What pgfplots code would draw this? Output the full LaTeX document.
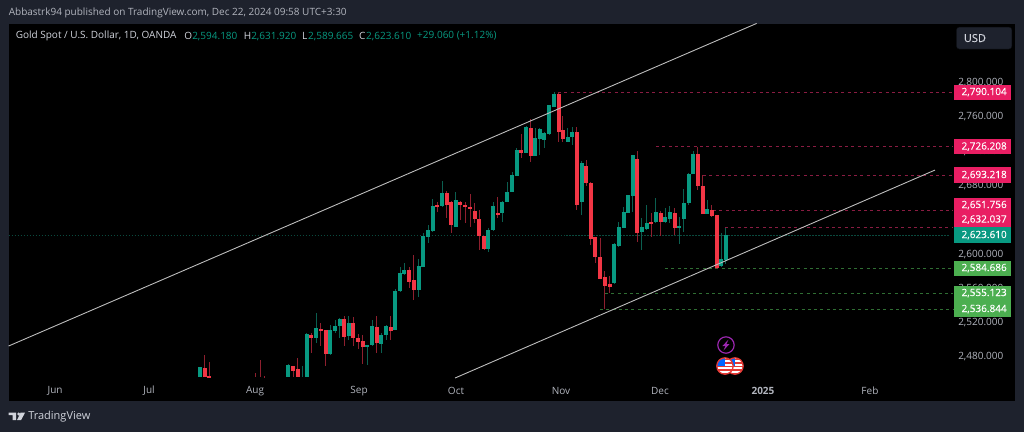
\documentclass[border=0pt]{standalone}
\usepackage{fontspec}
\setmainfont{Open Sans}
\usepackage{pgfplots}
\usepackage{pgfplotstable}
\pgfplotsset{compat=1.18}
\definecolor{bgp}{HTML}{1E222D}
\definecolor{upc}{HTML}{089981}
\definecolor{dnc}{HTML}{F23645}
\definecolor{upw}{HTML}{0B5F50}
\definecolor{dnw}{HTML}{8E1F2E}
\definecolor{txt}{HTML}{B2B5BE}
\definecolor{lab}{HTML}{D1D4DC}
\definecolor{pinkb}{HTML}{E91E63}
\definecolor{greenb}{HTML}{4CAF50}
\definecolor{tealb}{HTML}{089981}
\definecolor{lvlr}{HTML}{8A1C42}
\definecolor{lvlg}{HTML}{2F6E33}
\definecolor{lvlt}{HTML}{0A4A3E}
\definecolor{trend}{HTML}{BDBDBD}
\definecolor{purp}{HTML}{9C27B0}
\definecolor{ringr}{HTML}{E53935}
% x is the horizontal position of the candle on the chart
\pgfplotstableread{
x top bot high low
200.0 2469.3 2457.7 2470.1 2457.7
288.3 2472.4 2457.7 2473.2 2457.7
302.3 2457.7 2457.7 2470.9 2457.7
306.7 2508.6 2457.7 2509.3 2457.7
316.0 2515.2 2503.1 2532.3 2497.3
330.3 2512.8 2484.9 2518.6 2483.7
335.0 2517.9 2512.1 2524.5 2508.9
339.7 2525.6 2517.5 2526.4 2503.1
348.7 2521.4 2505.9 2529.1 2501.2
367.3 2495.7 2492.6 2495.7 2472.4
372.0 2517.5 2495.4 2524.5 2494.2
381.3 2506.6 2496.9 2508.9 2485.7
386.0 2517.5 2506.6 2518.6 2501.2
395.0 2558.7 2512.8 2560.2 2512.4
400.0 2578.9 2558.3 2585.9 2557.5
404.3 2582.7 2578.1 2590.5 2576.9
418.7 2587.0 2559.4 2595.2 2551.7
423.3 2622.7 2586.2 2625.5 2585.8
428.0 2629.3 2621.6 2635.2 2614.6
432.7 2657.3 2627.8 2665.1 2627.0
442.0 2672.8 2657.7 2686.4 2656.5
455.7 2664.3 2633.2 2673.6 2633.2
488.3 2629.7 2607.2 2631.3 2604.1
493.0 2657.3 2629.3 2661.6 2628.6
502.3 2662.3 2648.8 2663.1 2639.0
507.3 2674.0 2662.3 2685.6 2661.6
512.0 2693.4 2674.0 2696.5 2673.2
516.7 2722.5 2692.6 2724.5 2692.6
526.0 2749.3 2719.0 2750.9 2718.6
535.0 2736.2 2715.9 2747.8 2715.5
539.7 2747.0 2735.3 2747.8 2716.7
544.3 2742.3 2734.2 2743.9 2725.3
549.0 2774.6 2740.8 2775.0 2740.0
554.0 2787.8 2772.6 2790.5 2772.6
567.7 2737.3 2731.9 2748.5 2731.9
572.3 2743.5 2737.3 2749.7 2728.4
581.7 2707.0 2662.3 2709.7 2646.8
614.3 2612.6 2567.2 2613.8 2566.4
619.0 2632.8 2610.7 2639.0 2609.9
623.7 2650.7 2631.7 2655.7 2631.3
628.0 2670.1 2649.5 2670.1 2648.7
632.7 2716.3 2669.3 2717.1 2650.7
642.0 2633.2 2627.0 2642.9 2606.0
646.7 2637.1 2630.5 2658.5 2629.3
656.0 2650.7 2638.7 2666.2 2637.1
665.3 2644.1 2638.3 2654.6 2637.1
670.0 2650.7 2642.2 2657.3 2637.1
679.3 2634.0 2632.0 2644.9 2613.0
684.0 2660.8 2642.5 2676.7 2627.4
688.7 2694.6 2660.4 2695.4 2658.5
693.3 2718.3 2694.6 2721.4 2694.2
707.3 2653.4 2648.4 2664.3 2648.0
721.3 2595.2 2587.0 2626.2 2585.8
726.0 2623.61 2594.18 2631.92 2589.665
}\bull
\pgfplotstableread{
x top bot high low
204.7 2468.6 2457.7 2483.7 2457.7
209.0 2458.9 2457.7 2475.2 2457.7
255.7 2457.7 2457.7 2463.1 2457.7
260.3 2457.7 2457.7 2477.9 2457.7
264.3 2457.7 2457.7 2459.2 2457.7
293.0 2470.9 2465.1 2470.9 2457.7
297.7 2467.0 2457.7 2480.2 2457.7
311.3 2507.0 2503.9 2509.7 2485.7
320.7 2514.0 2512.1 2521.0 2494.6
325.7 2512.8 2484.9 2512.8 2470.9
344.0 2525.6 2504.7 2529.1 2494.2
353.3 2521.4 2503.5 2527.6 2494.2
358.0 2503.1 2499.2 2507.8 2490.3
362.7 2500.0 2492.6 2507.0 2473.6
376.7 2516.7 2497.3 2529.1 2485.7
390.7 2516.7 2511.7 2529.1 2501.2
409.0 2582.7 2569.1 2586.6 2561.4
413.7 2571.1 2559.4 2600.2 2547.8
437.3 2658.5 2656.9 2662.3 2650.7
446.7 2672.8 2658.9 2674.8 2643.7
451.0 2661.9 2635.2 2663.1 2625.5
460.3 2661.9 2658.5 2663.1 2641.0
465.3 2658.5 2656.5 2662.3 2637.9
470.0 2655.7 2653.4 2671.3 2633.2
474.7 2651.1 2642.2 2660.4 2637.9
479.3 2642.6 2622.3 2652.6 2606.0
484.0 2622.3 2606.8 2622.3 2606.0
497.7 2649.4 2647.8 2667.4 2642.9
521.3 2722.9 2719.0 2740.8 2712.8
530.7 2747.8 2715.2 2758.6 2708.9
558.7 2787.8 2743.9 2790.1 2732.2
563.0 2745.8 2735.7 2762.5 2732.2
577.0 2743.5 2658.9 2749.7 2652.6
586.3 2704.3 2684.5 2710.9 2680.6
590.7 2684.1 2618.9 2685.0 2611.9
595.3 2621.2 2597.9 2621.2 2590.5
600.3 2598.3 2572.2 2619.6 2572.2
605.0 2574.6 2564.1 2581.6 2536.9
609.7 2566.8 2562.9 2575.7 2555.6
637.3 2711.7 2625.5 2721.8 2615.8
651.3 2638.9 2637.3 2648.8 2620.8
660.7 2649.1 2638.7 2651.5 2622.4
674.7 2648.8 2631.7 2654.6 2623.5
698.0 2718.3 2680.6 2726.4 2675.9
702.7 2681.0 2648.0 2693.4 2647.6
712.0 2652.2 2646.0 2658.5 2644.9
716.7 2647.2 2585.1 2647.2 2584.3
}\bear
\newcommand{\wicks}[2]{\addplot[draw=none,mark=none,forget plot,
  error bars/.cd,y dir=both,y explicit,error mark=none,
  error bar style={solid,color=#2,line width=1pt}]
  table[x=x,y expr=(\thisrow{high}+\thisrow{low})/2,y error expr=(\thisrow{high}-\thisrow{low})/2]{#1};}
\newcommand{\bodies}[2]{\addplot[draw=none,mark=none,forget plot,
  error bars/.cd,y dir=both,y explicit,error mark=none,
  error bar style={solid,color=#2,line width=3.9pt}]
  table[x=x,y expr=(\thisrow{top}+\thisrow{bot})/2,y error expr=(\thisrow{top}-\thisrow{bot})/2]{#1};}
\newcommand{\fs}{\fontsize{10}{12}\selectfont}
\newfontfamily\obold[FakeBold=0.25]{Open Sans}
\newcommand{\fb}{\obold\fontsize{10}{12}\selectfont}
\tikzset{lvl/.style={line width=1pt,dash pattern=on 3pt off 3.3pt}}
\begin{document}
\begin{tikzpicture}
\begin{scope}[yshift=432pt,x=1pt,y=-1pt]
\fill[bgp] (0,0) rectangle (1024,432);
\fill[black] (8.5,23.5) rectangle (1015,401);
\end{scope}
\begin{axis}[
  at={(0,0)},anchor=south west,
  scale only axis,width=1024pt,height=432pt,
  xmin=0,xmax=1024,ymin=2394.0,ymax=2897.28,
  axis line style={draw=none},
  major tick length=0pt,
  xtick={55,149,255,359,456,561,660,763,870},
  xticklabels={Jun,Jul,Aug,Sep,Oct,Nov,Dec,\textbf{2025},Feb},
  xticklabel style={anchor=center,yshift=41pt,text=txt,font=\fs},
  ytick={2480,2520,...,2800},
  yticklabel pos=right,
  yticklabel style={anchor=east,xshift=-17pt,yshift=1.2pt,text=txt,font=\fs,
    /pgf/number format/fixed,/pgf/number format/fixed zerofill,
    /pgf/number format/precision=3,/pgf/number format/1000 sep={,},
    /pgf/number format/assume math mode=true},
]
% last price line and levels
\addplot[lvlt,line width=0.8pt,dash pattern=on 1.5pt off 1.5pt] coordinates {(8.5,2623.61)(950,2623.61)};
\addplot[lvlr,lvl] coordinates {(558,2790.104)(953,2790.104)};
\addplot[lvlr,lvl] coordinates {(656,2726.208)(953,2726.208)};
\addplot[lvlr,lvl] coordinates {(703,2693.218)(953,2693.218)};
\addplot[lvlr,lvl] coordinates {(713,2651.756)(953,2651.756)};
\addplot[lvlr,lvl] coordinates {(725,2632.037)(953,2632.037)};
\addplot[lvlg,lvl] coordinates {(665,2584.686)(953,2584.686)};
\addplot[lvlg,lvl] coordinates {(605,2555.123)(953,2555.123)};
\addplot[lvlg,lvl] coordinates {(600,2536.844)(953,2536.844)};
% candles
\wicks{\bull}{upw}
\wicks{\bear}{dnw}
\bodies{\bull}{upc}
\bodies{\bear}{dnc}
% trend lines
\addplot[trend,line width=0.9pt] coordinates {(8.5,2494.2)(756.7,2870.1)};
\addplot[trend,line width=0.9pt] coordinates {(455,2456.9)(935,2699.2)};
\end{axis}
% the remaining furniture is placed in image pixels (y down)
\begin{scope}[yshift=432pt,x=1pt,y=-1pt]
\fill[pinkb] (954,85) rectangle (1011,100);
\fill[pinkb] (954,139) rectangle (1011,154);
\fill[pinkb] (954,167) rectangle (1011,183);
\fill[pinkb] (954,198) rectangle (1011,227);
\fill[tealb] (954,227) rectangle (1011,243);
\fill[greenb] (954,261) rectangle (1011,276);
\fill[greenb] (954,286) rectangle (1011,317);
\foreach \yy/\tt in {92/{2,790.104},146.5/{2,726.208},175/{2,693.218},205/{2,651.756},219.5/{2,632.037},235/{2,623.610},268/{2,584.686},293/{2,555.123},309/{2,536.844}}
  \node[anchor=east,inner sep=0pt,text=white,font=\fb] at (1007,\yy) {\tt};
\fill[bgp,draw=black!60!bgp,rounded corners=3pt] (956.5,27) rectangle (1012,49);
\node[text=lab,font=\obold\fontsize{11}{13}\selectfont,inner sep=0pt] at (975,38) {USD};
\node[anchor=west,inner sep=0pt,text=txt,font=\fs] at (8.5,13) {Abbastrk94 published on TradingView.com, Dec 22, 2024 09:58 UTC+3:30};
\node[anchor=west,inner sep=0pt,text=lab,font=\fs] at (15.5,36) {Gold Spot / U.S. Dollar, 1D, OANDA};
\node[anchor=west,inner sep=0pt,text=lab,font=\fs] at (184,36) {O};
\node[anchor=west,inner sep=0pt,text=upc,font=\fs] at (192,36) {2,594.180};
\node[anchor=west,inner sep=0pt,text=lab,font=\fs] at (243.5,36) {H};
\node[anchor=west,inner sep=0pt,text=upc,font=\fs] at (251,36) {2,631.920};
\node[anchor=west,inner sep=0pt,text=lab,font=\fs] at (302,36) {L};
\node[anchor=west,inner sep=0pt,text=upc,font=\fs] at (308,36) {2,589.665};
\node[anchor=west,inner sep=0pt,text=lab,font=\fs] at (359,36) {C};
\node[anchor=west,inner sep=0pt,text=upc,font=\fs] at (366,36) {2,623.610};
\node[anchor=west,inner sep=0pt,text=upc,font=\fs] at (417,36) {+29.060 (+1.12\%)};
% event icons
\draw[color=purp,line width=1.2pt] (726,345) circle (8.2);
\fill[color=purp] (728.5,339.5) -- (722.5,346) -- (725.5,346) -- (723.5,350.5) -- (729.5,344) -- (726.5,344) -- cycle;
\foreach \cx in {735,725}{
  \begin{scope}
    \clip (\cx,366) circle (8.2);
    \fill[white] (\cx-9,357) rectangle (\cx+9,375);
    \foreach \sy in {358.5,362,365.5,369,372.5} \fill[ringr] (\cx-9,\sy) rectangle (\cx+9,\sy+1.7);
    \fill[blue!60!cyan] (\cx-9,357) rectangle (\cx+0.5,366);
  \end{scope}
  \draw[ringr,line width=1.3pt] (\cx,366) circle (8.2);
}
% logo
\fill[lab] (8.5,412.5) -- (16,412.5) -- (16,420) -- (12.5,420) -- (12.5,415) -- (8.5,415) -- cycle;
\fill[lab] (18.7,414) circle (1.6);
\fill[lab] (20.5,412.5) -- (25,412.5) -- (21,420) -- (17,420) -- cycle;
\node[anchor=west,inner sep=0pt,text=lab,font=\fontsize{11}{13}\selectfont] at (28,417) {TradingView};
\end{scope}
\end{tikzpicture}
\end{document}
